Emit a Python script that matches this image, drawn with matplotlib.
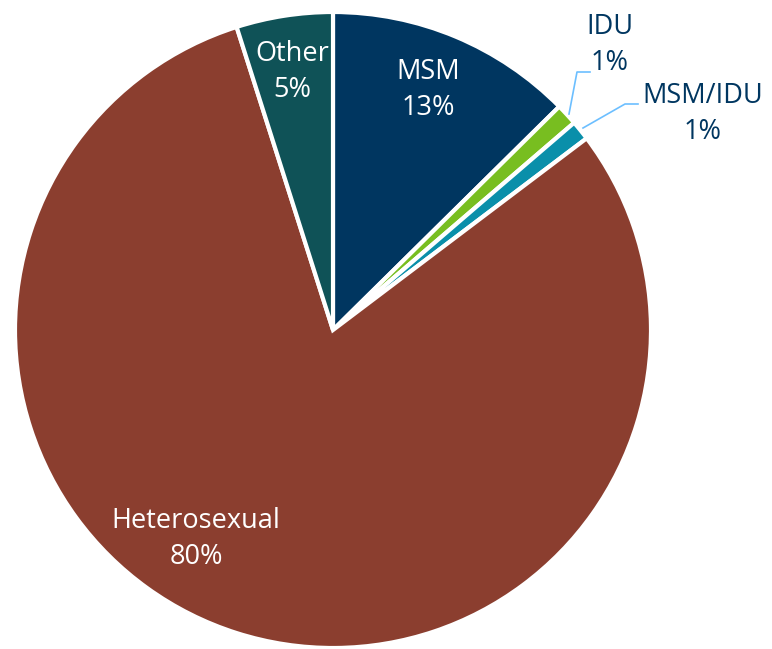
import matplotlib.pyplot as plt

# transmission categories, clockwise from the top
categories = ['MSM', 'IDU', 'MSM/IDU', 'Heterosexual', 'Other']
shares = [12.6, 1.1, 1.0, 80.4, 4.9]
pct_labels = ['13%', '1%', '1%', '80%', '5%']
colors = ['#003660', '#78BE20', '#0A8FAA', '#8B3E2F', '#0F5257']

W, H = 772, 649
fig = plt.figure(figsize=(W / 100, H / 100), dpi=100)
ax = fig.add_axes([0, 0, 1, 1])

# pixel coords in the picture -> data coords (y up)
def px(x, y):
    return x, H - y

ax.pie(shares, colors=colors, startangle=90, counterclock=False,
       center=px(333, 330), radius=318, frame=False,
       wedgeprops=dict(edgecolor='white', linewidth=3))
# pie() resets the limits, so set them afterwards
ax.set_xlim(0, W)
ax.set_ylim(0, H)
ax.set_aspect('equal')
ax.axis('off')

font = 'Open Sans'
fs = 19.5
navy = '#003660'
line_col = '#6CBFFF'
lsp = 1.42

# labels inside the wedges
ax.text(*px(428, 90), f'{categories[0]}\n{pct_labels[0]}', color='white',
        ha='center', va='center', fontsize=fs, family=font, linespacing=lsp)
ax.text(*px(196, 539), f'{categories[3]}\n{pct_labels[3]}', color='white',
        ha='center', va='center', fontsize=fs, family=font, linespacing=lsp)
ax.text(*px(292, 72), f'{categories[4]}\n{pct_labels[4]}', color='white',
        ha='center', va='center', fontsize=fs, family=font, linespacing=lsp)

# small slices get labels outside with leader lines
ax.text(*px(610, 45), f'{categories[1]}\n{pct_labels[1]}', color=navy,
        ha='center', va='center', fontsize=fs, family=font, linespacing=lsp)
ax.text(*px(703, 114), f'{categories[2]}\n{pct_labels[2]}', color=navy,
        ha='center', va='center', fontsize=fs, family=font, linespacing=lsp)

ax.plot(*zip(px(569, 114), px(577, 72), px(590, 72)), color=line_col, lw=1.2)
ax.plot(*zip(px(583, 128), px(625, 104), px(638, 104)), color=line_col, lw=1.2)

fig.savefig('out.png', dpi=100)
